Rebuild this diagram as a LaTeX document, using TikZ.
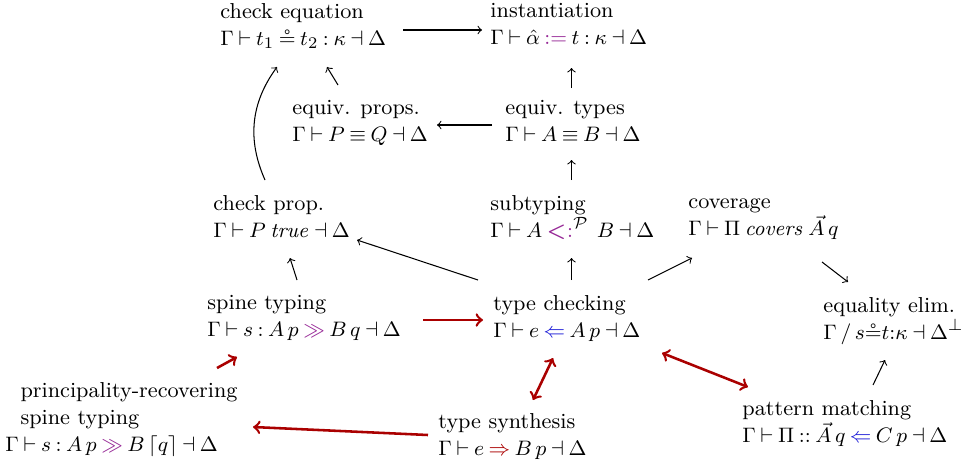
\documentclass[tikz,border=0pt]{standalone}
\usepackage{amsmath}
\usepackage{amssymb}
\usepackage{tikz}

\definecolor{judgred}{RGB}{170,0,0}
\definecolor{judgpurple}{RGB}{150,40,150}
\definecolor{judgblue}{RGB}{30,30,215}
\thickmuskip=3.8mu plus 2mu
\medmuskip=3mu plus 1mu minus 2mu

\tikzset{
  judg/.style={anchor=north west, inner sep=0pt, align=left,
    font=\fontsize{9.3pt}{11.7pt}\selectfont,
    execute at begin node={\vphantom{Ch}}},
  deparr/.style={->, line width=0.45pt},
  mainarr/.style={->, line width=1.1pt, draw=judgred},
  mutarr/.style={<->, line width=1.1pt, draw=judgred}
}

\begin{document}
\begin{tikzpicture}[x=0.43pt,y=-0.43pt]
\useasboundingbox (0,0) rectangle (976,471);

\node[judg] (cheq) at (220,3) {check equation\\ $\Gamma \vdash t_1 \circeq t_2 : \kappa \dashv \Delta$};
\node[judg] (inst) at (490,3) {instantiation\\ $\Gamma \vdash \hat{\alpha} \mathrel{\textcolor{judgpurple}{:=}} t : \kappa \dashv \Delta$};
\node[judg] (eqprop) at (292,100) {equiv. props.\\ $\Gamma \vdash P \equiv Q \dashv \Delta$};
\node[judg] (eqtype) at (505,100) {equiv. types\\ $\Gamma \vdash A \equiv B \dashv \Delta$};
\node[judg] (chprop) at (213,195) {check prop.\\ $\Gamma \vdash P\;\mathit{true} \dashv \Delta$};
\node[judg] (subtyp) at (490,195) {subtyping\\ $\Gamma \vdash A \mathrel{\textcolor{judgpurple}{\boldsymbol{<}\!{:}}^{\mathcal{P}}}\, B \dashv \Delta$};
\node[judg] (cover) at (688,198) {coverage\\ $\Gamma \vdash \Pi\;\mathit{covers}\;\vec{A}\,q$};
\node[judg] (spine) at (207,295) {spine typing\\ $\Gamma \vdash s : A\,p \mathrel{\textcolor{judgpurple}{\gg}} B\,q \dashv \Delta$};
\node[judg] (tcheck) at (493,295) {type checking\\ $\Gamma \vdash e \mathrel{\textcolor{judgblue}{\Leftarrow}} A\,p \dashv \Delta$};
\node[judg] (eqelim) at (823,297) {equality elim.\\ $\Gamma \,/\, s {\circeq} t {:} \kappa \dashv \Delta^{\bot}$};
\node[judg] (prin) at (5,382) {\hspace*{6.5pt}principality-recovering\\ \hspace*{6.5pt}spine typing\\ $\Gamma \vdash s : A\,p \mathrel{\textcolor{judgpurple}{\gg}} B\,\lceil q \rceil \dashv \Delta$};
\node[judg] (synth) at (438,413) {type synthesis\\ $\Gamma \vdash e \mathrel{\textcolor{judgred}{\Rightarrow}} B\,p \dashv \Delta$};
\node[judg] (patt) at (742,400) {pattern matching\\ $\Gamma \vdash \Pi :: \vec{A}\,q \mathrel{\textcolor{judgblue}{\Leftarrow}} C\,p \dashv \Delta$};

\draw[deparr] ([shift={(183,27)}]cheq.north west) -- ([shift={(-8,27)}]inst.north west);
\draw[deparr] ([shift={(-13,25)}]eqtype.north west) -- ([shift={(145,25)}]eqprop.north west);
\draw[deparr] ([shift={(66.5,-12)}]eqtype.north west) -- ([shift={(81.5,65)}]inst.north west);
\draw[deparr] ([shift={(81.5,-15)}]subtyp.north west) -- ([shift={(66.5,60)}]eqtype.north west);
\draw[deparr] ([shift={(78.5,-15)}]tcheck.north west) -- ([shift={(81.5,63)}]subtyp.north west);
\draw[deparr] ([shift={(-15,-15)}]tcheck.north west) -- ([shift={(144,45)}]chprop.north west);
\draw[deparr] ([shift={(90,-15)}]spine.north west) -- ([shift={(77,63)}]chprop.north west);
\draw[deparr] ([shift={(155,-15)}]tcheck.north west) -- ([shift={(4,60)}]cover.north west);
\draw[deparr] ([shift={(134,64)}]cover.north west) -- ([shift={(25,-15)}]eqelim.north west);
\draw[deparr] ([shift={(131,-15)}]patt.north west) -- ([shift={(62,63)}]eqelim.north west);
\draw[deparr] ([shift={(46,-15)}]eqprop.north west) -- ([shift={(107,64)}]cheq.north west);
\draw[deparr] ([shift={(52,-15)}]chprop.north west) to[bend left=30] ([shift={(57,64)}]cheq.north west);

\draw[mainarr] ([shift={(216,25)}]spine.north west) -- ([shift={(-10,25)}]tcheck.north west);
\draw[mainarr] ([shift={(212,-14)}]prin.north west) -- ([shift={(30,62)}]spine.north west);
\draw[mutarr] ([shift={(60,63)}]tcheck.north west) -- ([shift={(95,-13)}]synth.north west);
\draw[mutarr] ([shift={(169,58)}]tcheck.north west) -- ([shift={(6,-13)}]patt.north west);
\draw[mainarr] ([shift={(-10,22)}]synth.north west) -- ([shift={(248,45)}]prin.north west);
\end{tikzpicture}
\end{document}
